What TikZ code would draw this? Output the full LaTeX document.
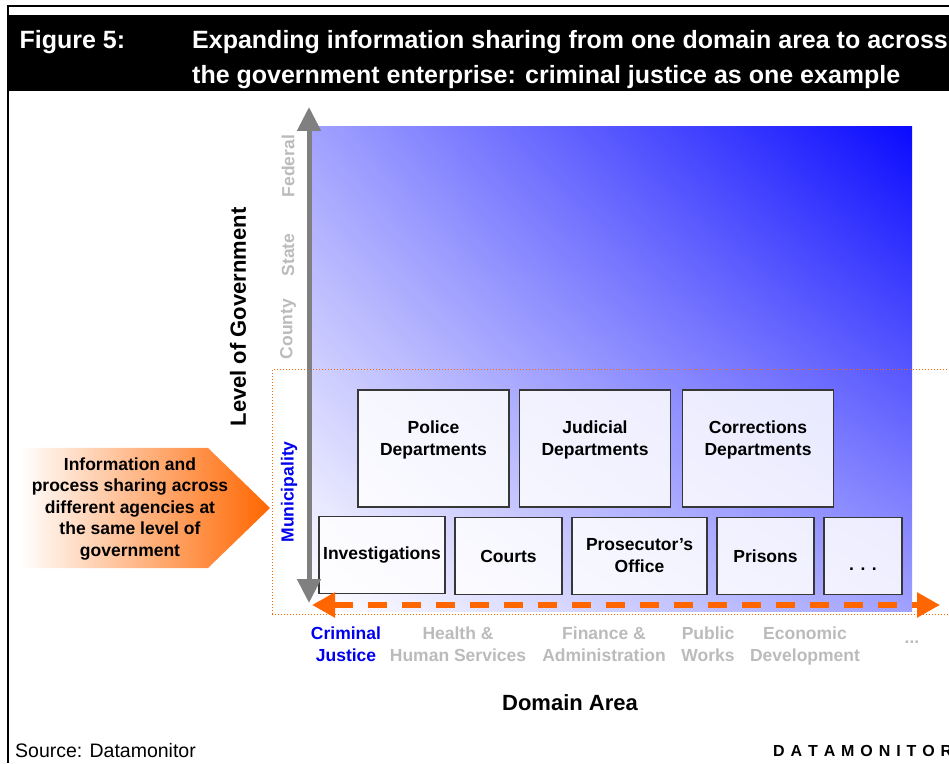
\documentclass[tikz,border=0pt]{standalone}
\usepackage{fontspec}
\setmainfont{Liberation Sans}
\usepackage{xcolor}
\usetikzlibrary{arrows.meta}
\usetikzlibrary{shadings}
\definecolor{dmorange}{RGB}{255,102,0}
\definecolor{dmgray}{RGB}{187,187,187}
\definecolor{axisgray}{RGB}{128,128,128}
\definecolor{boxline}{RGB}{55,55,55}
\definecolor{dmblue}{RGB}{0,0,238}

\begin{document}
\begin{tikzpicture}[x=1pt,y=1pt]

		\tikzstyle{unitbox}   = [draw=boxline, line width=1.2pt, fill=white, fill opacity=0.85, text opacity=1, align=center, inner sep=0pt, font=\fontsize{17.5}{22}\selectfont\bfseries]
		\tikzstyle{upperbox}  = [unitbox, minimum width=151pt, minimum height=117pt, text depth=20pt]
		\tikzstyle{lowerbox}  = [unitbox, minimum height=77pt]
		\tikzstyle{tierlabel} = [rotate=90, text=dmgray, font=\fontsize{17.5}{21}\selectfont\bfseries]
		\tikzstyle{arealabel} = [align=center, text=dmgray, font=\fontsize{17.5}{22}\selectfont\bfseries]

		\useasboundingbox (0,0) rectangle (949,763);
		\fill[black] (8,672) rectangle (949,748);
		\draw[line width=2pt] (8,0) -- (8,757) -- (949,757);
		\node[anchor=base west, text=white, font=\fontsize{25}{35}\selectfont\bfseries](fig) at (16,714) {Figure 5:};
		\node[anchor=base west, align=left, text=white, inner sep=0pt, font=\fontsize{25}{35}\selectfont\bfseries](title) at (192,679) {Expanding information sharing from one domain area to across\\the government enterprise: criminal justice as one example};

		\shade[lower left=white, upper left=blue!37, upper right=blue!96, lower right=blue!37] (312,152) rectangle (912,636);
		\draw[dmorange, dotted, line width=1pt] (272,149) rectangle (960,393);

		\node[upperbox](police) at (433.5,314.5) {Police\\Departments};
		\node[upperbox](judicial) at (595,314.5) {Judicial\\Departments};
		\node[upperbox](corrections) at (758,314.5) {Corrections\\Departments};
		\node[lowerbox, minimum width=126pt](investigations) at (382,208) {Investigations};
		\node[lowerbox, minimum width=107pt](courts) at (508.5,207) {Courts};
		\node[lowerbox, minimum width=135pt](prosecutor) at (639.5,207) {Prosecutor’s\\Office};
		\node[lowerbox, minimum width=97pt](prisons) at (765.5,207) {Prisons};
		\node[lowerbox, minimum width=78pt, text height=30pt, text depth=2pt](more) at (863,207) {. . .};

		\coordinate (ybottom) at (309,160);
		\coordinate (ytop) at (309,656);
		\coordinate (xleft) at (312,158);
		\coordinate (xright) at (940,158);
		\draw[axisgray, line width=5pt, {Triangle[length=24pt, width=23pt]}-{Triangle[length=24pt, width=23pt]}] (ybottom) -- (ytop);
		\draw[dmorange, line width=5.5pt, dash pattern=on 19pt off 15pt, {Triangle[length=23pt, width=24pt]}-{Triangle[length=23pt, width=24pt]}] (xleft) -- (xright);

		\node[rotate=90, font=\fontsize{22}{26}\selectfont\bfseries](lvl) at (238,446) {Level of Government};
		\node[tierlabel](federal) at (288,597) {Federal};
		\node[tierlabel](state) at (288,508) {State};
		\node[tierlabel](county) at (288,434) {County};
		\node[tierlabel, text=dmblue](municipality) at (289,271) {Municipality};

		\shade[left color=white, right color=dmorange] (20,315) -- (208,315) -- (270,255) -- (208,195) -- (20,195) -- cycle;
		\node[align=center, font=\fontsize{17.5}{21.5}\selectfont\bfseries](sharing) at (130,254) {Information and\\process sharing across\\different agencies at\\the same level of\\government};

		\node[arealabel, text=dmblue](criminal) at (346,119) {Criminal\\Justice};
		\node[arealabel](health) at (458,119) {Health \&\\Human Services};
		\node[arealabel](finance) at (604,119) {Finance \&\\Administration};
		\node[arealabel](public) at (708,119) {Public\\Works};
		\node[arealabel](economic) at (805,117) {Economic\\Development};
		\node[arealabel](others) at (912,121) {...};
		\node[font=\fontsize{22}{26}\selectfont\bfseries](axis) at (570,60) {Domain Area};

		\node[anchor=base west, inner sep=0pt, font=\fontsize{19.5}{23}\selectfont](source) at (15,6) {Source: Datamonitor};
		\node[anchor=base west, inner sep=0pt, font=\fontsize{16}{19}\selectfont\bfseries](brand) at (773,7) {\spaceskip=5.9pt D A T A M O N I T O R};

	\end{tikzpicture}
\end{document}
